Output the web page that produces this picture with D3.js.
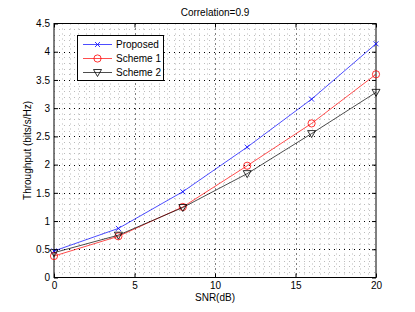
<!DOCTYPE html>
<html lang="en">
<head>
<meta charset="utf-8">
<title>Throughput vs SNR</title>
<script src="https://d3js.org/d3.v7.min.js"></script>
<style>
  body { margin: 0; background: #fff; }
  text { font-family: "Liberation Sans", Arial, sans-serif; font-size: 10px; fill: #000; }
</style>
</head>
<body>
<div id="chart"></div>
<script>
  // data
  var snr = [0, 4, 8, 12, 16, 20];
  var proposed = [0.47, 0.87, 1.52, 2.31, 3.16, 4.14];
  var scheme1 = [0.38, 0.73, 1.25, 1.98, 2.73, 3.60];
  var scheme2 = [0.44, 0.75, 1.24, 1.84, 2.55, 3.28];
  var seriesNames = ["Proposed", "Scheme 1", "Scheme 2"];
  var xTicks = [0, 5, 10, 15, 20];
  var yTicks = [0, 0.5, 1, 1.5, 2, 2.5, 3, 3.5, 4, 4.5];

  var width = 415, height = 312;
  // plot box edges (named so they don't clash with window.top)
  var pLeft = 54, pRight = 376, pTop = 23.5, pBottom = 277.5;

  var svg = d3.select("#chart").append("svg")
    .attr("width", width)
    .attr("height", height);

  var x = d3.scaleLinear().domain([0, 20]).range([pLeft, pRight]);
  var y = d3.scaleLinear().domain([0, 4.5]).range([pBottom, pTop]);

  // minor grid
  var g = svg.append("g");
  g.selectAll(".mx").data(d3.range(1, 40).filter(function (d) { return d % 10 !== 0; }))
    .enter().append("line")
    .attr("x1", function (d) { return Math.round(x(d / 2)) + 0.5; })
    .attr("x2", function (d) { return Math.round(x(d / 2)) + 0.5; })
    .attr("y1", pTop).attr("y2", pBottom)
    .attr("stroke", "#bbb").attr("stroke-width", 1).attr("stroke-dasharray", "1,4");
  g.selectAll(".my").data(d3.range(1, 45).filter(function (d) { return d % 5 !== 0; }))
    .enter().append("line")
    .attr("y1", function (d) { return Math.round(y(d / 10)) + 0.5; })
    .attr("y2", function (d) { return Math.round(y(d / 10)) + 0.5; })
    .attr("x1", pLeft).attr("x2", pRight)
    .attr("stroke", "#bbb").attr("stroke-width", 1).attr("stroke-dasharray", "1,4");

  // major grid
  g.selectAll(".Mx").data(xTicks.slice(1, -1))
    .enter().append("line")
    .attr("x1", function (d) { return Math.round(x(d)) + 0.5; })
    .attr("x2", function (d) { return Math.round(x(d)) + 0.5; })
    .attr("y1", pTop).attr("y2", pBottom)
    .attr("stroke", "#000").attr("stroke-width", 1).attr("stroke-dasharray", "1,4");
  g.selectAll(".My").data(yTicks.slice(1, -1))
    .enter().append("line")
    .attr("y1", function (d) { return Math.round(y(d)) + 0.5; })
    .attr("y2", function (d) { return Math.round(y(d)) + 0.5; })
    .attr("x1", pLeft).attr("x2", pRight)
    .attr("stroke", "#000").attr("stroke-width", 1).attr("stroke-dasharray", "1,4");

  // axes with inward ticks, mirrored on top/right
  var fmt = d3.format("");
  svg.append("g").attr("transform", "translate(0," + pBottom + ")")
    .call(d3.axisBottom(x).tickValues(xTicks).tickSizeInner(-4).tickSizeOuter(0).tickPadding(9).tickFormat(fmt));
  svg.append("g").attr("transform", "translate(" + pLeft + ",0)")
    .call(d3.axisLeft(y).tickValues(yTicks).tickSizeInner(-4).tickSizeOuter(0).tickPadding(8).tickFormat(fmt));
  svg.append("g").attr("transform", "translate(0," + pTop + ")")
    .call(d3.axisTop(x).tickValues(xTicks).tickSizeInner(-4).tickSizeOuter(0).tickFormat(""));
  svg.append("g").attr("transform", "translate(" + pRight + ",0)")
    .call(d3.axisRight(y).tickValues(yTicks).tickSizeInner(-4).tickSizeOuter(0).tickFormat(""));
  svg.selectAll(".domain").remove();
  svg.selectAll(".tick text").style("font-family", "Liberation Sans, Arial, sans-serif").style("font-size", "10px").attr("fill", "#000");
  // inward ticks: d3 offsets labels by max(inner,0)+padding, so padding is the gap
  svg.selectAll(".tick text").each(function () {
    var t = d3.select(this);
    if (t.attr("y") !== null && +t.attr("y") > 0) t.attr("y", 4);
    if (t.attr("x") !== null && +t.attr("x") < 0) t.attr("x", -4);
  });

  svg.append("rect")
    .attr("x", pLeft).attr("y", pTop)
    .attr("width", pRight - pLeft).attr("height", pBottom - pTop)
    .attr("fill", "none").attr("stroke", "#000").attr("stroke-width", 1);

  // series
  var series = [
    { name: seriesNames[0], values: proposed, color: "#0000ff", marker: "x" },
    { name: seriesNames[1], values: scheme1, color: "#ff0000", marker: "o" },
    { name: seriesNames[2], values: scheme2, color: "#000000", marker: "v" }
  ];

  var line = d3.line().x(function (d) { return x(d[0]); }).y(function (d) { return y(d[1]); });

  function drawMarker(sel, type, color) {
    if (type === "x") {
      sel.append("path").attr("d", "M-2.5,-2.5L2.5,2.5M-2.5,2.5L2.5,-2.5")
        .attr("stroke", color).attr("stroke-width", 0.8).attr("fill", "none");
    } else if (type === "o") {
      sel.append("circle").attr("r", 3.6).attr("stroke", color).attr("stroke-width", 0.8).attr("fill", "none");
    } else {
      sel.append("path").attr("d", "M-4,-3L4,-3L0,4Z").attr("stroke", color).attr("stroke-width", 0.8).attr("fill", "none");
    }
  }

  series.forEach(function (s) {
    var pts = snr.map(function (v, i) { return [v, s.values[i]]; });
    svg.append("path").datum(pts).attr("d", line)
      .attr("fill", "none").attr("stroke", s.color).attr("stroke-width", 0.7);
    pts.forEach(function (p) {
      var m = svg.append("g").attr("transform", "translate(" + x(p[0]) + "," + y(p[1]) + ")");
      drawMarker(m, s.marker, s.color);
    });
  });

  // legend
  var lg = svg.append("g");
  lg.append("rect").attr("x", 77.5).attr("y", 35.5).attr("width", 86).attr("height", 45)
    .attr("fill", "#fff").attr("stroke", "#000").attr("stroke-width", 1);
  series.forEach(function (s, i) {
    var yy = 44.5 + i * 14;
    lg.append("line").attr("x1", 83).attr("x2", 112).attr("y1", yy).attr("y2", yy)
      .attr("stroke", s.color).attr("stroke-width", 0.7);
    drawMarker(lg.append("g").attr("transform", "translate(97.5," + yy + ")"), s.marker, s.color);
    lg.append("text").attr("x", 116).attr("y", yy + 3.5).text(s.name);
  });

  // labels
  svg.append("text").attr("x", (pLeft + pRight) / 2).attr("y", 16).attr("text-anchor", "middle").text("Correlation=0.9");
  svg.append("text").attr("x", (pLeft + pRight) / 2).attr("y", 301).attr("text-anchor", "middle").text("SNR(dB)");
  svg.append("text").attr("transform", "translate(31," + (pTop + pBottom) / 2 + ") rotate(-90)")
    .attr("text-anchor", "middle").text("Throughput (bits/s/Hz)");
</script>
</body>
</html>
